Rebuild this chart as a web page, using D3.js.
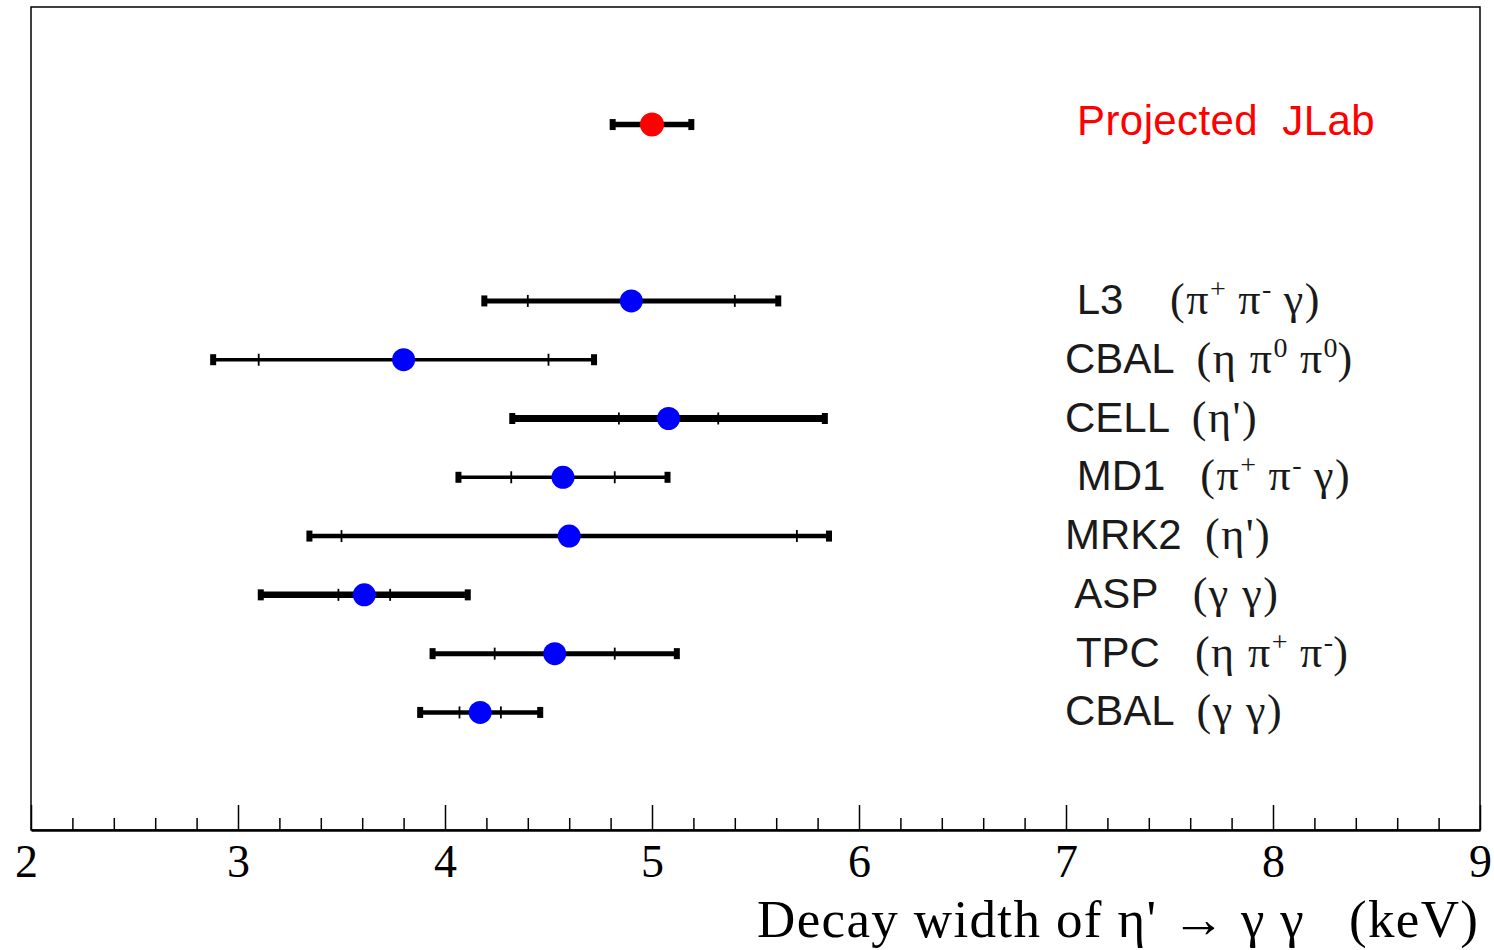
<!DOCTYPE html>
<html>
<head>
<meta charset="utf-8">
<script src="https://cdn.jsdelivr.net/npm/d3@7"></script>
<style>
  body { margin: 0; background: #fff; }
  svg text { white-space: pre; }
</style>
</head>
<body>
<div class="chart"></div>
<script>
// chart values, top row first
const experiments = ["Projected  JLab", " L3    ", "CBAL  ", "CELL  ", " MD1   ", "MRK2  ", " ASP   ", " TPC   ", "CBAL  "];
const channels = ["", "(π^+ π^- γ)", "(η π^0 π^0)", "(η')", "(π^+ π^- γ)", "(η')", "(γ γ)", "(η π^+ π^-)", "(γ γ)"];
const rows = [0, 3, 4, 5, 6, 7, 8, 9, 10];
const widths = [5.0, 4.9, 3.8, 5.08, 4.57, 4.6, 3.61, 4.53, 4.17];
const statErrors = [0, 0.5, 0.7, 0.24, 0.25, 1.1, 0.125, 0.29, 0.1];
const totalErrors = [0.19, 0.71, 0.92, 0.755, 0.505, 1.255, 0.5, 0.59, 0.29];
const xTicks = [2, 3, 4, 5, 6, 7, 8, 9];

const data = experiments.map((name, i) => ({
    name: name,
    channel: channels[i],
    row: rows[i],
    value: widths[i],
    stat: statErrors[i],
    total: totalErrors[i]
}));

const W = 1494, H = 950;
const plot = { left: 31, right: 1480, top: 7, bottom: 830 };

// bar thickness per row (the original plot uses different weights)
const barWeight = [5.5, 5, 3.5, 7, 3.5, 4.5, 6.5, 5, 4.5];

const xScale = d3.scaleLinear().domain([2, 9]).range([plot.left, plot.right]);
const yScale = d3.scaleLinear().domain([-2, 12]).range([plot.top, plot.bottom]);

const svg = d3.select(".chart").append("svg")
    .attr("width", W)
    .attr("height", H);

// frame
svg.append("rect")
    .attr("x", plot.left)
    .attr("y", plot.top)
    .attr("width", plot.right - plot.left)
    .attr("height", plot.bottom - plot.top)
    .attr("fill", "none")
    .attr("stroke", "#000")
    .attr("stroke-width", 1.5);

// minor ticks
const minorVals = d3.range(0, 36).map(i => 2 + i * 0.2).filter(v => Math.abs(v - Math.round(v)) > 0.01);
svg.append("g")
    .attr("transform", `translate(0, ${plot.bottom})`)
    .call(d3.axisBottom(xScale).tickValues(minorVals).tickSize(-12).tickFormat(""))
    .call(g => g.select(".domain").remove())
    .call(g => g.selectAll("line").attr("stroke-width", 1.5));

// major ticks + labels
svg.append("g")
    .attr("transform", `translate(0, ${plot.bottom})`)
    .call(d3.axisBottom(xScale).tickValues(xTicks).tickSizeInner(-25).tickSizeOuter(0).tickPadding(14).tickFormat(d3.format("d")))
    .call(g => g.select(".domain").attr("stroke-width", 2.5))
    .call(g => g.selectAll("line").attr("stroke-width", 1.5))
    .call(g => g.selectAll("text")
        .attr("font-family", "'Liberation Serif', 'Times New Roman', serif")
        .attr("font-size", 46)
        .attr("fill", "#000")
        .attr("dx", d => d === 2 ? -5 : 0));

// axis title
svg.append("text")
    .attr("x", plot.right - 2)
    .attr("y", 937)
    .attr("text-anchor", "end")
    .attr("font-family", "'Liberation Serif', 'Times New Roman', serif")
    .attr("font-size", 53)
    .attr("textLength", 721)
    .attr("lengthAdjust", "spacing")
    .text("Decay width of η' → γ γ   (keV)");

// error bars
const bars = svg.append("g").selectAll("g")
    .data(data)
    .enter()
    .append("g");

bars.append("line")
    .attr("x1", d => xScale(d.value - d.total))
    .attr("x2", d => xScale(d.value + d.total))
    .attr("y1", d => yScale(d.row))
    .attr("y2", d => yScale(d.row))
    .attr("stroke", "#000")
    .attr("stroke-width", (d, i) => barWeight[i]);

// end caps
bars.selectAll(".cap")
    .data(d => [d.value - d.total, d.value + d.total].map(v => ({ v: v, row: d.row })))
    .enter()
    .append("rect")
    .attr("class", "cap")
    .attr("x", d => xScale(d.v) - 3)
    .attr("y", d => yScale(d.row) - 5.5)
    .attr("width", 6)
    .attr("height", 11)
    .attr("fill", "#000");

// inner ticks at the statistical error
bars.selectAll(".stat")
    .data(d => d.stat > 0 ? [d.value - d.stat, d.value + d.stat].map(v => ({ v: v, row: d.row })) : [])
    .enter()
    .append("line")
    .attr("class", "stat")
    .attr("x1", d => xScale(d.v))
    .attr("x2", d => xScale(d.v))
    .attr("y1", d => yScale(d.row) - 6)
    .attr("y2", d => yScale(d.row) + 6)
    .attr("stroke", "#000")
    .attr("stroke-width", 1.8);

// central points
bars.append("circle")
    .attr("cx", d => xScale(d.value))
    .attr("cy", d => yScale(d.row))
    .attr("r", (d, i) => i === 0 ? 12 : 11.5)
    .attr("fill", (d, i) => i === 0 ? "#ff0000" : "#0000ff");

// labels
const labels = svg.append("g").selectAll("text")
    .data(data)
    .enter()
    .append("text")
    .attr("x", 1065)
    .attr("y", d => yScale(d.row) + (d.row === 0 ? 10 : 13))
    .attr("font-size", 42)
    .attr("fill", (d, i) => i === 0 ? "#ff0000" : "#1a1a1a");

labels.append("tspan")
    .attr("font-family", "'Liberation Sans', Arial, sans-serif")
    .attr("letter-spacing", (d, i) => i === 0 ? 0.4 : 0)
    .text(d => d.row === 0 ? " " + d.name : d.name);

// formula with superscripts written as ^x
labels.each(function (d) {
    const t = d3.select(this);
    const parts = d.channel.split(/\^(.)/);
    let raised = false;
    parts.forEach((p, k) => {
        if (p === "") return;
        const sup = k % 2 === 1;
        const ts = t.append("tspan")
            .attr("font-family", "'Liberation Serif', 'Times New Roman', serif")
            .attr("font-size", sup ? 28 : 44)
            .attr("letter-spacing", sup ? 0 : 1.5)
            .text(p);
        if (sup && !raised) { ts.attr("dy", -16); raised = true; }
        else if (!sup && raised) { ts.attr("dy", 16); raised = false; }
    });
});
</script>
</body>
</html>
